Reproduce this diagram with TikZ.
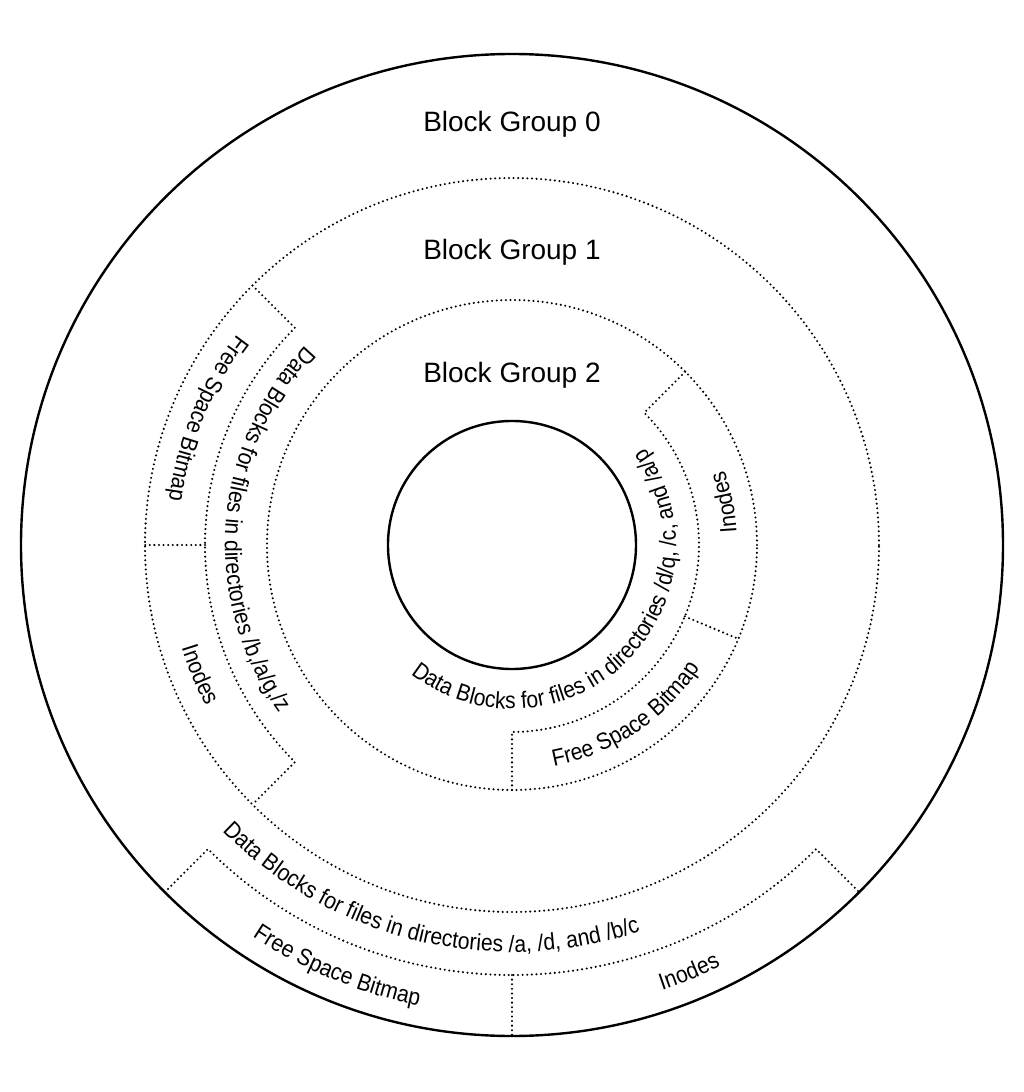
\documentclass[tikz,border=0pt]{standalone}
\usepackage{fontspec}
\setmainfont{Liberation Sans}
\newfontfamily\arcfont[FakeStretch=0.9]{Liberation Sans}
\usetikzlibrary{decorations.text}
\newcommand\ringtext[4]{%
  \path[decorate, decoration={text along path,
      text={|\arcfont\fontsize{23.5}{25}\selectfont|#4}, text align=center}]
    ({#1-#2}:#3) arc[start angle={#1-#2}, end angle={#1+#2}, radius=#3];}
\begin{document}
\begin{tikzpicture}[x=1pt,y=1pt,
  solidline/.style={line width=2.4pt},
  dotline/.style={line width=2.3pt, dash pattern=on 0pt off 4.6pt, line cap=round},
  grouplabel/.style={font=\fontsize{28}{30}\selectfont, inner sep=0pt, anchor=base}]
\useasboundingbox (-512,-547) rectangle (512,545);
% solid circles
\draw[solidline] (0,0) circle[radius=491];
\draw[solidline] (0,0) circle[radius=124];
% group boundaries
\draw[dotline] (0,0) circle[radius=367];
\draw[dotline] (0,0) circle[radius=245];
% group 0 band
\draw[dotline] (225:491) -- (225:430) arc[start angle=225, end angle=315, radius=430] -- (315:491);
\draw[dotline] (270:430) -- (270:491);
% group 1 band
\draw[dotline] (135:367) -- (135:307) arc[start angle=135, end angle=225, radius=307] -- (225:367);
\draw[dotline] (180:307) -- (180:367);
% group 2 band
\draw[dotline] (45:245) -- (45:187) arc[start angle=45, end angle=-90, radius=187] -- (-90:245);
\draw[dotline] (-22.5:187) -- (-22.5:245);
% labels
\node[grouplabel] (g0) at (0,413) {Block Group 0};
\node[grouplabel] (g1) at (0,285) {Block Group 1};
\node[grouplabel] (g2) at (0,162) {Block Group 2};
% ring texts
\ringtext{256.5}{60}{407}{Data Blocks for files in directories /a, /d, and /b/c}
\ringtext{247.5}{40}{470}{Free Space Bitmap}
\ringtext{292.5}{40}{470}{Inodes}
\ringtext{176}{70}{287}{Data Blocks for files in directories /b,/a/g,/z}
\ringtext{157.5}{40}{346}{Free Space Bitmap}
\ringtext{202.5}{40}{346}{Inodes}
\ringtext{314}{100}{164}{Data Blocks for files in directories /d/q, /c, and /a/p}
\ringtext{-56.25}{40}{225}{Free Space Bitmap}
\ringtext{11.25}{40}{225}{Inodes}
\end{tikzpicture}
\end{document}
